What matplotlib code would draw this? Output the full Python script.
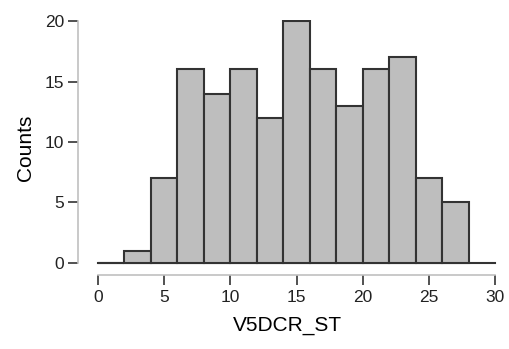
import numpy as np
import matplotlib.pyplot as plt

plt.rcParams['font.family'] = ['Liberation Sans', 'DejaVu Sans']

bin_left = [0, 2, 4, 6, 8, 10, 12, 14, 16, 18, 20, 22, 24, 26]
counts = [0, 1, 7, 16, 14, 16, 12, 20, 16, 13, 16, 17, 7, 5]
xticks = [0, 5, 10, 15, 20, 25, 30]
yticks = [0, 5, 10, 15, 20]

fig = plt.figure(figsize=(5.09, 3.49), dpi=100)
ax = fig.add_axes([0.153, 0.212, 0.823, 0.731])

ax.plot([0, 30], [0, 0], color='#333333', lw=1.5, zorder=1)
ax.bar(bin_left, counts, width=2, align='edge', color='#bebebe',
       edgecolor='#333333', linewidth=1.5, zorder=2)

ax.set_xlim(-1.5, 30.1)
ax.set_ylim(-1, 20.1)
ax.set_xticks(xticks)
ax.set_yticks(yticks)

for s in ['top', 'right']:
    ax.spines[s].set_visible(False)
ax.spines['left'].set_bounds(0, 20)
ax.spines['bottom'].set_bounds(0, 30)
for s in ['left', 'bottom']:
    ax.spines[s].set_color('#c0c0c0')
    ax.spines[s].set_linewidth(1.2)
ax.tick_params(direction='out', length=7, width=1.2, color='#333333',
               labelsize=12.5, labelcolor='#222222')
ax.tick_params(axis='y', pad=3)
ax.tick_params(axis='x', pad=4)

ax.set_xlabel('V5DCR_ST', fontsize=15, labelpad=8)
ax.set_ylabel('Counts', fontsize=15, labelpad=7)

fig.savefig('out.png', dpi=100)
